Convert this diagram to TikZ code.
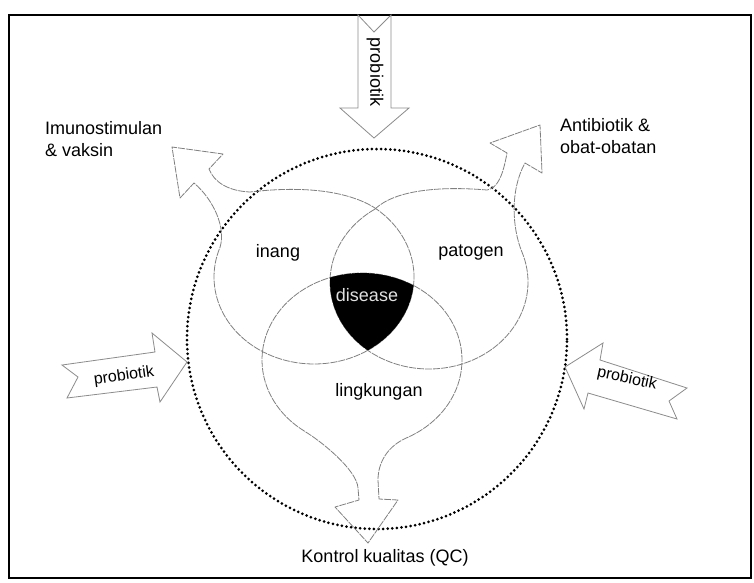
\documentclass[tikz,border=0pt]{standalone}
\usepackage{fontspec}
\setmainfont{Liberation Sans}
\begin{document}
\begin{tikzpicture}[x=1pt,y=-1pt,
  frame/.style={draw=black, line width=1.3pt},
  dotring/.style={draw=black, line width=3pt, line cap=round, dash pattern=on 0pt off 4.6pt},
  venn/.style={draw=black!50, line width=0.8pt, dash pattern=on 7pt off 1pt, line join=round},
  fatarrow/.style={draw=black!45, line width=0.8pt, fill=white, line join=miter},
  lbl/.style={font=\fontsize{18}{22}\selectfont, text=black, inner sep=0pt},
  arrlbl/.style={font=\fontsize{16}{18}\selectfont, text=black, inner sep=0pt}]
\fill[white] (0,0) rectangle (754,582);
\useasboundingbox (0,0) rectangle (754,582);
\draw[frame] (9,15) rectangle (751,578);
% outer dotted ring
\draw[dotring] (377,339) circle[radius=190pt];
% inang shape with upper-left arrow
\draw[venn] plot[domain=-53.6:200, samples=90, variable=\t] ({314+100*cos(\t)},{277+87*sin(\t)})
  .. controls (226,228) and (214,200) .. (194,183) -- (180,198) -- (172,147) -- (223,154) -- (209,169)
  .. controls (214,182) and (228,191) .. (250,192)
  .. controls (300,186) and (345,190) .. (373.4,207) -- cycle;
% patogen shape with upper-right arrow
\draw[venn] plot[domain=0:257, samples=90, variable=\t] ({429+99*cos(237-\t)},{282+87*sin(237-\t)})
  .. controls (512,228) and (510,190) .. (525,163) -- (542,173) -- (540,125) -- (490,143) -- (507,153)
  .. controls (503,175) and (498,188) .. (487,190)
  .. controls (440,186) and (395,190) .. (375,209) -- cycle;
% lingkungan shape with bottom arrow
\draw[venn] plot[domain=125:423.6, samples=90, variable=\t] ({362+100*cos(\t)},{360+87*sin(\t)})
  .. controls (388,446) and (378,462) .. (378,480) -- (379,499) -- (398,500) -- (368,543) -- (335,507) -- (359,500) -- (358,488)
  .. controls (357,470) and (321,441) .. (304.6,431.3) -- cycle;
% disease region
\begin{scope}
  \clip plot[domain=0:360, samples=100, variable=\t] ({314+100*cos(\t)},{277+87*sin(\t)}) -- cycle;
  \clip plot[domain=0:360, samples=100, variable=\t] ({429+99*cos(\t)},{282+87*sin(\t)}) -- cycle;
  \fill[black] plot[domain=0:360, samples=100, variable=\t] ({362+100*cos(\t)},{360+87*sin(\t)}) -- cycle;
\end{scope}
% probiotik arrows
\draw[fatarrow] (358,15) -- (358,108) -- (340,108) -- (374,138) -- (409,108) -- (391,108) -- (391,15) -- (374,32) -- cycle;
\draw[fatarrow] (62,365) -- (155,352) -- (152,333) -- (187,362) -- (160,402) -- (157,387) -- (67,398) -- (78,377) -- cycle;
\draw[fatarrow] (565,367) -- (603,343) -- (600,360) -- (687,388) -- (669,401) -- (677,419) -- (588,393) -- (584,409) -- cycle;
% labels
\node[lbl, rotate=-90] (ptop) at (375,72) {probiotik};
\node[arrlbl, rotate=8] (pleft) at (124,376) {probiotik};
\node[arrlbl, rotate=-12] (pright) at (627,379) {probiotik};
\node[lbl, anchor=west, align=left] (imun) at (45,139) {Imunostimulan\\\& vaksin};
\node[lbl, anchor=west, align=left] (anti) at (560,136) {Antibiotik \&\\obat-obatan};
\node[lbl] (inang) at (278,253) {inang};
\node[lbl] (patogen) at (471,253) {patogen};
\node[lbl] (lingk) at (379,392) {lingkungan};
\node[lbl, text=white!88!black] (dis) at (367,295) {disease};
\node[lbl] (qc) at (385,558) {Kontrol kualitas (QC)};
\end{tikzpicture}
\end{document}
